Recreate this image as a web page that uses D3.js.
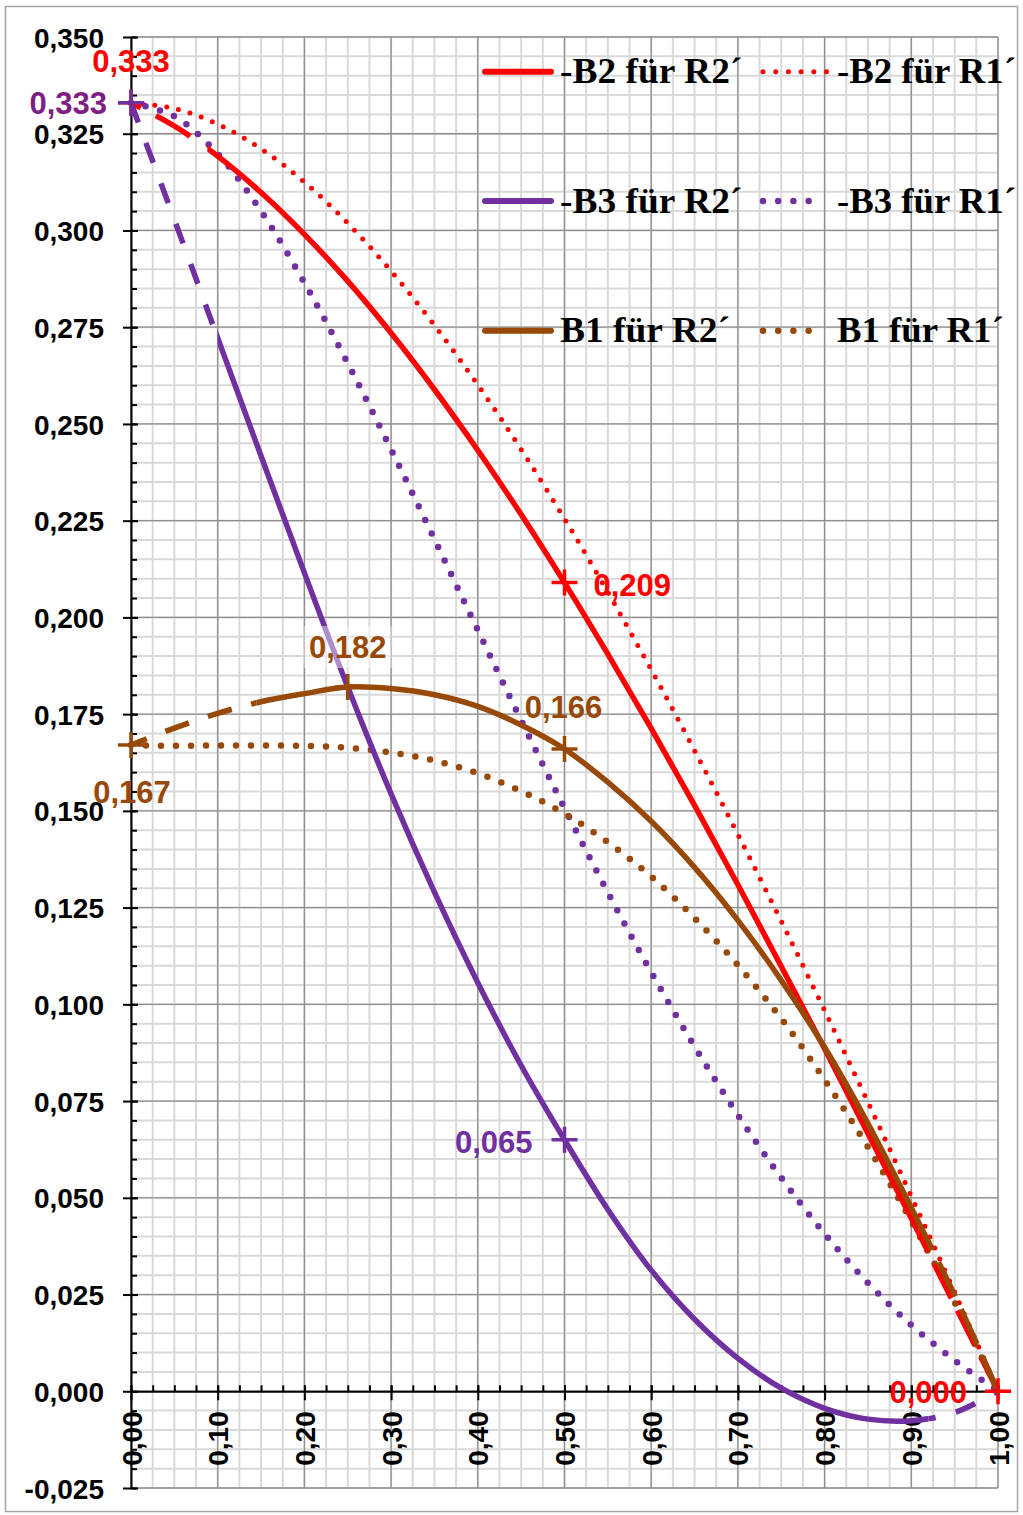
<!DOCTYPE html>
<html>
<head>
<meta charset="utf-8">
<script src="https://cdn.jsdelivr.net/npm/d3@7/dist/d3.min.js"></script>
<style>
  html, body { margin: 0; padding: 0; background: #fff; }
  svg { display: block; }
  .axis text { font-family: "Liberation Sans", Arial, sans-serif; font-weight: bold; fill: #000; }
</style>
</head>
<body>
<svg id="chart" width="1023" height="1515"></svg>
<script>
// Relative position along the member (0 … 1) for every tabulated value
const positions = [0.00, 0.05, 0.10, 0.15, 0.20, 0.25, 0.30, 0.35, 0.40, 0.45, 0.50,
                   0.55, 0.60, 0.65, 0.70, 0.75, 0.80, 0.85, 0.90, 0.95, 1.00];

// -B2 für R2´
const minusB2forR2 = [0.333, 0.3270, 0.3192, 0.3098, 0.2990, 0.2869, 0.2735, 0.2589, 0.2432, 0.2266, 0.209,
                      0.1905, 0.1713, 0.1514, 0.1309, 0.1098, 0.0885, 0.0666, 0.0447, 0.0223, 0.000];
// -B2 für R1´
const minusB2forR1 = [0.333, 0.3315, 0.3275, 0.3211, 0.3125, 0.3019, 0.2895, 0.2755, 0.2601, 0.2434, 0.2255,
                      0.2065, 0.1865, 0.1656, 0.1439, 0.1215, 0.0984, 0.0747, 0.0504, 0.0256, 0.000];
// -B3 für R2´
const minusB3forR2 = [0.333, 0.3028, 0.2722, 0.2417, 0.2115, 0.1820, 0.1544, 0.1290, 0.1056, 0.0842, 0.065,
                      0.0470, 0.0313, 0.0186, 0.0085, 0.0008, -0.0044, -0.0072, -0.0076, -0.0055, 0.000];
// -B3 für R1´
const minusB3forR1 = [0.333, 0.3295, 0.3198, 0.3050, 0.2865, 0.2657, 0.2434, 0.2202, 0.1967, 0.1734, 0.1507,
                      0.1289, 0.1083, 0.0891, 0.0714, 0.0552, 0.0407, 0.0280, 0.0171, 0.0080, 0.000];
// B1 für R2´
const b1forR2 = [0.167, 0.1714, 0.1752, 0.1782, 0.1803, 0.182, 0.1816, 0.1800, 0.1770, 0.1722, 0.166,
                 0.1574, 0.1473, 0.1354, 0.1217, 0.1062, 0.0889, 0.0692, 0.0474, 0.0248, 0.000];
// B1 für R1´
const b1forR1 = [0.167, 0.1668, 0.1669, 0.1669, 0.1668, 0.1663, 0.1651, 0.1630, 0.1597, 0.1551, 0.1493,
                 0.1419, 0.1330, 0.1223, 0.1101, 0.0963, 0.0805, 0.0631, 0.0440, 0.0230, 0.000];

// Axis tick labels
const xTickValues = [0.0, 0.1, 0.2, 0.3, 0.4, 0.5, 0.6, 0.7, 0.8, 0.9, 1.0];
const yTickValues = [-0.025, 0.000, 0.025, 0.050, 0.075, 0.100, 0.125, 0.150, 0.175,
                     0.200, 0.225, 0.250, 0.275, 0.300, 0.325, 0.350];

// Legend texts (row by row: R2´ column, R1´ column)
const legendLabels = [
  ["-B2 für R2´", "-B2 für R1´"],
  ["-B3 für R2´", "-B3 für R1´"],
  ["B1 für R2´", "B1 für R1´"]
];

// Marked points: position and the value that the label states
const markedPoints = [
  { series: "b2r2", pos: 0.00, value: 0.333 },
  { series: "b3r2", pos: 0.00, value: 0.333 },
  { series: "b2r2", pos: 0.50, value: 0.209 },
  { series: "b2r2", pos: 1.00, value: 0.000 },
  { series: "b3r2", pos: 0.50, value: 0.065 },
  { series: "b1r2", pos: 0.00, value: 0.167 },
  { series: "b1r2", pos: 0.25, value: 0.182 },
  { series: "b1r2", pos: 0.50, value: 0.166 }
];

const RED = "#ff0000", PURPLE = "#7030a0", BROWN = "#984807";

const W = 1023, H = 1515;
const plot = { left: 131, right: 998, top: 37, bottom: 1488 };

const x = d3.scaleLinear().domain([0, 1]).range([plot.left, plot.right]);
const y = d3.scaleLinear().domain([-0.025, 0.35]).range([plot.bottom, plot.top]);

const de = d3.formatLocale({ decimal: ",", thousands: ".", grouping: [3], currency: ["", " €"], minus: "-" });
const fmt2 = de.format(".2f"), fmt3 = de.format(".3f");

const svg = d3.select("#chart");
const defs = svg.append("defs");

svg.append("rect").attr("width", W).attr("height", H).attr("fill", "#fff");
// outer chart frame
svg.append("rect").attr("x", 5.5).attr("y", 6.5).attr("width", 1012).attr("height", 1505)
  .attr("fill", "none").attr("stroke", "#a6a6a6").attr("stroke-width", 1.5);

// ---------- grid ----------
const grid = svg.append("g");
const xMinor = d3.range(0, 40 + 1).map(i => i * 0.025);
const yMinor = d3.range(0, 75 + 1).map(i => -0.025 + i * 0.005);

grid.selectAll(".vmin").data(xMinor).join("line")
  .attr("x1", d => x(d)).attr("x2", d => x(d)).attr("y1", plot.top).attr("y2", plot.bottom)
  .attr("stroke", "#d9d9d9").attr("stroke-width", 2);
grid.selectAll(".hmin").data(yMinor).join("line")
  .attr("y1", d => y(d)).attr("y2", d => y(d)).attr("x1", plot.left).attr("x2", plot.right)
  .attr("stroke", "#d9d9d9").attr("stroke-width", 2);
grid.selectAll(".vmaj").data(xTickValues).join("line")
  .attr("x1", d => x(d)).attr("x2", d => x(d)).attr("y1", plot.top).attr("y2", plot.bottom)
  .attr("stroke", "#8f8f8f").attr("stroke-width", 1.3);
grid.selectAll(".hmaj").data(yTickValues).join("line")
  .attr("y1", d => y(d)).attr("y2", d => y(d)).attr("x1", plot.left).attr("x2", plot.right)
  .attr("stroke", "#8f8f8f").attr("stroke-width", 1.3);

// ---------- axes ----------
const yAxisMinor = svg.append("g").attr("class", "axis").attr("transform", `translate(${plot.left},0)`)
  .call(d3.axisLeft(y).tickValues(yMinor).tickSize(-6).tickSizeOuter(0).tickFormat(""));
yAxisMinor.select(".domain").remove();
yAxisMinor.selectAll("line").attr("stroke", "#000").attr("stroke-width", 2);

const yAxis = svg.append("g").attr("class", "axis").attr("transform", `translate(${plot.left},0)`)
  .call(d3.axisLeft(y).tickValues(yTickValues).tickSizeOuter(0).tickFormat(fmt3));
yAxis.select(".domain").attr("stroke", "#000").attr("stroke-width", 2);
yAxis.selectAll(".tick line").attr("x1", 7).attr("x2", -8).attr("stroke", "#000").attr("stroke-width", 2);
yAxis.selectAll(".tick text").attr("x", -27).attr("dy", "0.36em").style("font-size", "28px");

const xAxisMinor = svg.append("g").attr("class", "axis").attr("transform", `translate(0,${y(0)})`)
  .call(d3.axisBottom(x).tickValues(xMinor).tickSize(-6).tickSizeOuter(0).tickFormat(""));
xAxisMinor.select(".domain").remove();
xAxisMinor.selectAll("line").attr("stroke", "#000").attr("stroke-width", 2);

const xAxis = svg.append("g").attr("class", "axis").attr("transform", `translate(0,${y(0)})`)
  .call(d3.axisBottom(x).tickValues(xTickValues).tickSizeOuter(0).tickFormat(fmt2));
xAxis.select(".domain").attr("stroke", "#000").attr("stroke-width", 2);
xAxis.selectAll(".tick line").attr("y1", -6).attr("y2", 9).attr("stroke", "#000").attr("stroke-width", 2);
xAxis.selectAll(".tick text")
  .attr("transform", "rotate(-90)").attr("x", -20).attr("y", 0).attr("dy", "0.36em")
  .attr("text-anchor", "end").style("font-size", "28px");

// ---------- curves ----------
const line = d3.line().x(d => x(d[0])).y(d => y(d[1])).curve(d3.curveCatmullRom.alpha(0.5));
const pts = vals => positions.map((p, i) => [p, vals[i]]);

function clipRange(id, a, b) {
  defs.append("clipPath").attr("id", id).append("rect")
    .attr("x", a).attr("y", 0).attr("width", b - a).attr("height", H);
  return `url(#${id})`;
}

const curves = svg.append("g").attr("fill", "none");

// R1´ curves: dotted
const dotted = [
  { values: minusB2forR1, color: RED, width: 5, gap: 12 },
  { values: minusB3forR1, color: PURPLE, width: 6.5, gap: 15 },
  { values: b1forR1, color: BROWN, width: 6.5, gap: 15 }
];
dotted.forEach(s => {
  curves.append("path").attr("d", line(pts(s.values)))
    .attr("stroke", s.color).attr("stroke-width", s.width)
    .attr("stroke-linecap", "round").attr("stroke-dasharray", `0 ${s.gap}`);
});

// R2´ curves: dashed start, solid middle, dashed end
const solid = [
  { id: "b2r2", values: minusB2forR2, color: RED,
    headEnd: 0.075, bodyStart: 0.088, bodyEnd: 0.908, tailStart: 0.908,
    headDash: "40 17", headOffset: 29, tailDash: "38 14", tailOffset: 0 },
  { id: "b3r2", values: minusB3forR2, color: PURPLE,
    headEnd: 0.1, bodyStart: 0.1, bodyEnd: 0.92, tailStart: 0.92,
    headDash: "21 22", headOffset: 0, tailDash: "21 21", tailOffset: 16 },
  { id: "b1r2", values: b1forR2, color: BROWN,
    headEnd: 0.145, bodyStart: 0.145, bodyEnd: 0.91, tailStart: 0.91,
    headDash: "25 20", headOffset: 8, tailDash: "38 14", tailOffset: 0 }
];
solid.forEach(s => {
  const p = pts(s.values);
  const d = line(p), dRev = line(p.slice().reverse());
  curves.append("path").attr("d", d).attr("stroke", s.color).attr("stroke-width", 5.5)
    .attr("stroke-dasharray", s.headDash).attr("stroke-dashoffset", s.headOffset)
    .attr("clip-path", clipRange(s.id + "-head", x(0) - 30, x(s.headEnd)));
  curves.append("path").attr("d", d).attr("stroke", s.color).attr("stroke-width", 5.5)
    .attr("clip-path", clipRange(s.id + "-body", x(s.bodyStart), x(s.bodyEnd)));
  curves.append("path").attr("d", dRev).attr("stroke", s.color).attr("stroke-width", 5.5)
    .attr("stroke-dasharray", s.tailDash).attr("stroke-dashoffset", s.tailOffset)
    .attr("clip-path", clipRange(s.id + "-tail", x(s.tailStart), x(1) + 30));
});

// ---------- markers and value labels ----------
const colorOf = { b2r2: RED, b3r2: PURPLE, b1r2: BROWN };
const labelStyle = [
  { color: RED, dx: 0, dy: -31, anchor: "middle" },
  { color: "#7f1f86", dx: -24, dy: 11, anchor: "end" },
  { color: RED, dx: 29, dy: 13, anchor: "start" },
  { color: RED, dx: -31, dy: 12, anchor: "end" },
  { color: PURPLE, dx: -32, dy: 13, anchor: "end" },
  { color: BROWN, dx: 1, dy: 58, anchor: "middle" },
  { color: BROWN, dx: 0, dy: -29, anchor: "middle", backdrop: true },
  { color: BROWN, dx: -1, dy: -31, anchor: "middle" }
];

const marks = svg.append("g");
markedPoints.forEach(m => {
  const cx = x(m.pos), cy = y(m.value), c = colorOf[m.series];
  marks.append("path").attr("d", `M${cx - 13},${cy}H${cx + 13}M${cx},${cy - 13}V${cy + 13}`)
    .attr("stroke", c).attr("stroke-width", 3.5);
});

const labels = svg.append("g")
  .style("font-family", "\"Liberation Sans\", Arial, sans-serif")
  .style("font-weight", "bold").style("font-size", "31px");
markedPoints.forEach((m, i) => {
  const st = labelStyle[i];
  const cx = x(m.pos), cy = y(m.value);
  if (st.backdrop) {
    labels.append("rect").attr("x", cx - 44).attr("y", cy + st.dy - 32).attr("width", 88).attr("height", 42)
      .attr("fill", "#fff").attr("fill-opacity", 0.45);
  }
  labels.append("text").attr("x", cx + st.dx).attr("y", cy + st.dy)
    .attr("text-anchor", st.anchor).attr("fill", st.color).text(fmt3(m.value));
});

// ---------- legend ----------
const legend = svg.append("g")
  .style("font-family", "\"Liberation Serif\", \"Times New Roman\", serif")
  .style("font-weight", "bold").style("font-size", "35px");
const legendColors = [RED, PURPLE, BROWN];
const rowY = [71.7, 201, 330.7];
legendLabels.forEach((row, r) => {
  const ly = rowY[r];
  legend.append("line").attr("x1", 485).attr("x2", 551).attr("y1", ly).attr("y2", ly)
    .attr("stroke", legendColors[r]).attr("stroke-width", 6).attr("stroke-linecap", "round");
  legend.append("text").attr("transform", `translate(560,${ly + 11.5}) scale(1.07,1)`)
    .attr("fill", "#000").text(row[0]);
  const gap = r === 0 ? 12.7 : 15.2;
  legend.append("line").attr("x1", 763).attr("x2", 763 + gap * (r === 0 ? 5 : 4)).attr("y1", ly).attr("y2", ly)
    .attr("stroke", legendColors[r]).attr("stroke-width", r === 0 ? 5 : 6.5)
    .attr("stroke-linecap", "round").attr("stroke-dasharray", `0 ${gap}`);
  legend.append("text").attr("transform", `translate(837,${ly + 11.5}) scale(1.05,1)`)
    .attr("fill", "#000").text(row[1]);
});
</script>
</body>
</html>
